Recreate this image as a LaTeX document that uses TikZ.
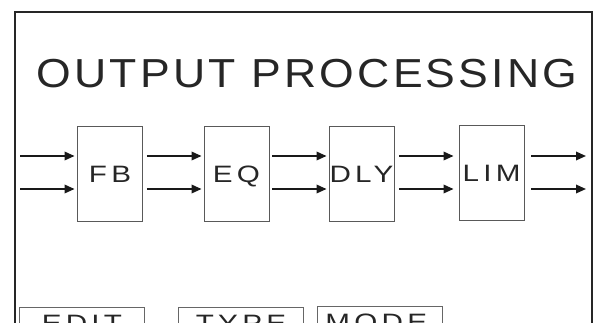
\documentclass[tikz,border=0pt]{standalone}
\usepackage{fontspec}
\setmainfont{Liberation Sans}
\newfontfamily\titlefont[LetterSpace=8,FakeStretch=1.1]{Liberation Sans}
\newfontfamily\labfont[LetterSpace=18,FakeStretch=1.25]{Liberation Sans}
\usetikzlibrary{arrows.meta}
\begin{document}
\begin{tikzpicture}[x=1pt,y=-1pt,
  blk/.style={draw=black!65, line width=0.9pt, minimum width=65pt, minimum height=95pt, inner sep=0pt,
    font=\labfont\fontsize{23.7}{24}\selectfont, text=black!85, text height=17pt, text depth=0pt},
  btn/.style={draw=black!60, line width=0.9pt, minimum width=125pt, anchor=north west, inner xsep=0pt, inner ysep=7pt,
    text height=17pt, text depth=30pt, font=\labfont\fontsize{23.7}{24}\selectfont, text=black!85},
  arr/.style={line width=1.8pt, draw=black!90, -{Triangle[length=10pt,width=8.5pt]}},
  frm/.style={line width=2pt, draw=black!85}]
\useasboundingbox (0,0) rectangle (599,322);
\clip (0,0) rectangle (599,322);
% frame
\coordinate (fbl) at (15,340);
\coordinate (ftl) at (15,12);
\coordinate (ftr) at (592,12);
\coordinate (fbr) at (592,340);
\draw[frm] (fbl) -- (ftl) -- (ftr) -- (fbr);
% title
\node[font=\titlefont\fontsize{40.5}{41}\selectfont, text=black!85, text height=29pt, text depth=0pt, inner sep=0pt] (title) at (307,72.5) {OUTPUT PROCESSING};
% blocks
\node[blk] (fb) at (110,173.5) {FB};
\node[blk] (eq) at (236.5,173.5) {EQ};
\node[blk] (dly) at (361.5,173.5) {DLY};
\node[blk] (lim) at (491.5,172.5) {LIM};
% arrow rows
\coordinate (in1) at (20,156);
\coordinate (in2) at (20,189);
\coordinate (out1) at (586,156);
\coordinate (out2) at (586,189);
\foreach \r in {1,2}{
  \draw[arr] (in\r) -- ([xshift=-2.5pt]fb.west |- in\r);
  \draw[arr] ([xshift=4pt]fb.east |- in\r) -- ([xshift=-2pt]eq.west |- in\r);
  \draw[arr] ([xshift=3pt]eq.east |- in\r) -- ([xshift=-2pt]dly.west |- in\r);
  \draw[arr] ([xshift=5pt]dly.east |- in\r) -- ([xshift=-5pt]lim.west |- in\r);
  \draw[arr] ([xshift=7pt]lim.east |- in\r) -- (out\r);
}
% buttons
\node[btn] (edit) at (19,307) {EDIT};
\node[btn] (type) at (178,307) {TYPE};
\node[btn, align=left, text width=109pt] (mode) at (317,306) {MODE};
\end{tikzpicture}
\end{document}
